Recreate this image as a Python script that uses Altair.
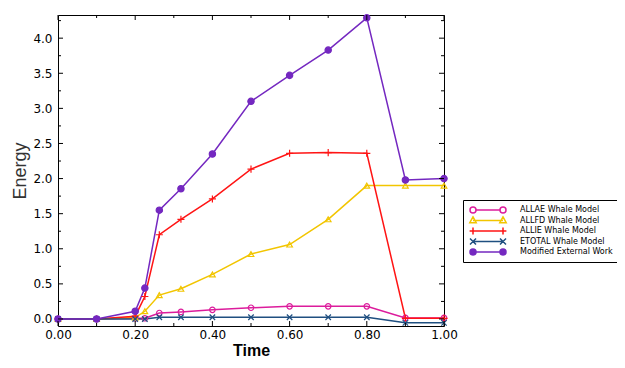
import altair as alt
import pandas as pd

# ---- data ----
time = [0.0, 0.1, 0.2, 0.225, 0.2625, 0.3185, 0.4, 0.5, 0.6, 0.7, 0.8, 0.9, 1.0]
allae = [0.0, 0.0, 0.01, 0.01, 0.085, 0.10, 0.13, 0.16, 0.18, 0.18, 0.18, 0.015, 0.015]
allfd = [0.0, 0.0, 0.02, 0.11, 0.34, 0.43, 0.635, 0.925, 1.06, 1.42, 1.90, 1.90, 1.90]
allie = [0.0, 0.0, 0.04, 0.32, 1.20, 1.42, 1.71, 2.135, 2.36, 2.37, 2.36, 0.01, 0.01]
etotal = [0.0, 0.0, 0.0, 0.0, 0.025, 0.025, 0.025, 0.025, 0.025, 0.025, 0.025, -0.055, -0.055]
modified = [0.0, 0.0, 0.11, 0.44, 1.55, 1.855, 2.35, 3.10, 3.47, 3.83, 4.29, 1.98, 2.0]

names = ["ALLAE Whale Model", "ALLFD Whale Model", "ALLIE Whale Model",
         "ETOTAL Whale Model", "Modified External Work"]
series_values = [allae, allfd, allie, etotal, modified]
colors = ["#dc1c9c", "#f2c500", "#ff1414", "#1f4f80", "#7428c0"]

x_major = [0.0, 0.2, 0.4, 0.6, 0.8, 1.0]
x_minor = [0.1, 0.3, 0.5, 0.7, 0.9]
y_major = [0.0, 0.5, 1.0, 1.5, 2.0, 2.5, 3.0, 3.5, 4.0]
y_minor = [0.25, 0.75, 1.25, 1.75, 2.25, 2.75, 3.25, 3.75, 4.25]

rows = []
for n, vals in zip(names, series_values):
    for t, v in zip(time, vals):
        rows.append({"series": n, "time": t, "energy": v})
df = pd.DataFrame(rows)

W, H = 386, 311
xscale = alt.Scale(domain=[0, 1], nice=False, zero=False)
yscale = alt.Scale(domain=[-0.1, 4.33], nice=False, zero=False)

plot_shapes = ["circle", "triangle-up", "M-1,0L1,0M0,-1L0,1",
               "M-1,-1L1,1M-1,1L1,-1", "circle"]
plot_sizes = [30, 32, 50, 30, 40]
fills = ["transparent", "transparent", "transparent", "transparent", colors[4]]

# legend symbols: line with a marker at each end (1 unit = 4 px)
legend_paths = [
    "M-3,0L3,0M-3,0A0.75,0.75,0,1,1,-4.5,0A0.75,0.75,0,1,1,-3,0M4.5,0A0.75,0.75,0,1,1,3,0A0.75,0.75,0,1,1,4.5,0",
    "M-3.75,0L3.75,0M-3.75,-0.9L-4.55,0.55L-2.95,0.55ZM3.75,-0.9L2.95,0.55L4.55,0.55Z",
    "M-4.6,0L4.6,0M-3.75,-0.85L-3.75,0.85M3.75,-0.85L3.75,0.85",
    "M-3.75,0L3.75,0M-4.5,-0.75L-3,0.75M-4.5,0.75L-3,-0.75M3,-0.75L4.5,0.75M3,0.75L4.5,-0.75",
    "M-3.75,0L3.75,0M-3,0A0.75,0.75,0,1,1,-4.5,0A0.75,0.75,0,1,1,-3,0ZM4.5,0A0.75,0.75,0,1,1,3,0A0.75,0.75,0,1,1,4.5,0Z",
]


def ternary(vals):
    expr = "'" + vals[-1] + "'"
    for n, v in reversed(list(zip(names[:-1], vals[:-1]))):
        expr = "datum.value == '" + n + "' ? '" + v + "' : (" + expr + ")"
    return expr


legend = alt.Legend(
    title=None, orient="none", legendX=405, legendY=185,
    symbolSize=64, symbolOffset=15, labelOffset=27,
    labelFont="DejaVu Sans", labelFontSize=8, labelColor="black",
    clipHeight=10, rowPadding=0.5, padding=5, strokeColor="black", fillColor="white",
    symbolType={"expr": ternary(legend_paths)},
    symbolFillColor={"expr": ternary(fills)},
    symbolStrokeColor={"expr": ternary(colors)},
    symbolStrokeWidth=1.5, symbolOpacity=1,
)

x_axis = alt.Axis(
    values=x_major, format=".2f", labelFont="DejaVu Sans", labelFontSize=12,
    labelColor="black", ticks=False, domain=False, grid=False, labelPadding=3,
    labelFlush=False, title="Time", titleFont="Liberation Sans", titleFontSize=16,
    titleFontWeight="bold", titleColor="black", titlePadding=2)
y_axis = alt.Axis(
    values=y_major, format=".1f", labelFont="DejaVu Sans", labelFontSize=12,
    labelColor="black", ticks=False, domain=False, grid=False, labelPadding=6,
    labelFlush=False, title="Energy", titleFont="Liberation Sans", titleFontSize=18,
    titleFontWeight="normal", titleColor="#333333", titlePadding=3)

x_enc = alt.X("time:Q", scale=xscale, axis=x_axis)
y_enc = alt.Y("energy:Q", scale=yscale, axis=y_axis)

lines = alt.Chart(df).mark_line(strokeWidth=1.5).encode(
    x=x_enc, y=y_enc,
    color=alt.Color("series:N", scale=alt.Scale(domain=names, range=colors), legend=legend),
)

point_layers = []
for n, c, shp, sz, fl in zip(names, colors, plot_shapes, plot_sizes, fills):
    point_layers.append(
        alt.Chart(df).transform_filter(alt.datum.series == n).mark_point(
            shape=shp, size=sz, stroke=c, fill=fl, strokeWidth=1.2, opacity=1
        ).encode(x=x_enc, y=y_enc)
    )


def xticks(values, y0, y1):
    return alt.Chart(pd.DataFrame({"time": values})).mark_rule(color="black", strokeWidth=1).encode(
        x=x_enc, y=alt.value(y0), y2=alt.value(y1))


def yticks(values, x0, x1):
    return alt.Chart(pd.DataFrame({"energy": values})).mark_rule(color="black", strokeWidth=1).encode(
        y=y_enc, x=alt.value(x0), x2=alt.value(x1))


ticks = [
    xticks(x_major, H, H - 5), xticks(x_minor, H, H - 3),
    xticks(x_major, 0, 5), xticks(x_minor, 0, 3),
    yticks(y_major, 0, 5), yticks(y_minor, 0, 3),
    yticks(y_major, W, W - 5), yticks(y_minor, W, W - 3),
]

chart = alt.layer(lines, *point_layers, *ticks).properties(
    width=W, height=H,
    padding={"left": 50, "top": 7, "right": 173, "bottom": 34},
    autosize=alt.AutoSizeParams(type="none"),
    background="white",
).configure_view(stroke="black", strokeWidth=1)

chart.save("out.html", embed_options={"renderer": "svg", "actions": False})
